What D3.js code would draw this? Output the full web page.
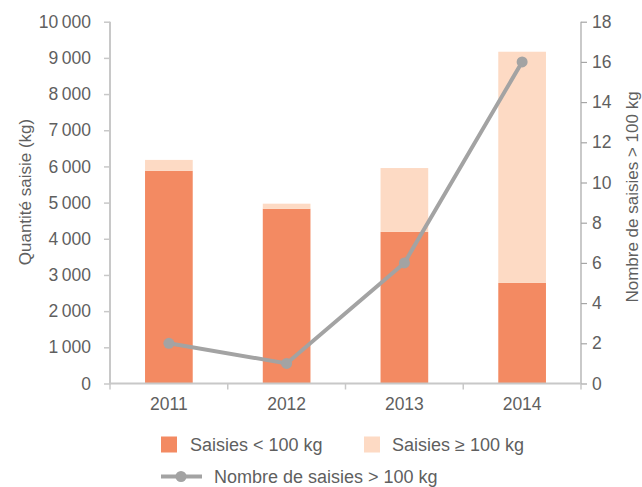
<!DOCTYPE html>
<html><head><meta charset="utf-8">
<script src="https://cdn.jsdelivr.net/npm/d3@7"></script>
<style>
body{margin:0;background:#fff;}
svg text{font-family:"Liberation Sans",Arial,sans-serif;fill:#5f5f5f;}
</style></head>
<body><svg id="c" width="642" height="487"></svg>
<script>
const years = ["2011","2012","2013","2014"];
const small = [5880, 4830, 4190, 2780];      // Saisies < 100 kg
const large = [300, 140, 1765, 6390];        // Saisies ≥ 100 kg
const counts = [2, 1, 6, 16];                // Nombre de saisies > 100 kg
const leftTicks = [0,1000,2000,3000,4000,5000,6000,7000,8000,9000,10000];
const rightTicks = [0,2,4,6,8,10,12,14,16,18];

const svg = d3.select("#c");
const m = {l:110, r:581, t:21.7, b:383.5};
const x = d3.scaleBand().domain(years).range([m.l, m.r]).paddingInner(0.595).paddingOuter(0.2975);
const xb = d3.scaleBand().domain(years).range([m.l, m.r]);
const y = d3.scaleLinear().domain([0,10000]).range([m.b, m.t]);
const y2 = d3.scaleLinear().domain([0,18]).range([m.b, m.t]);
const fmt = v => d3.format(",")(v).replace(/,/g, "\u2009");

const cDark = "#f38a62", cLight = "#fddac4", cLine = "#a3a3a3";

// bars
const g = svg.append("g");
g.selectAll(".s").data(years).join("rect")
  .attr("x", d => x(d)).attr("width", x.bandwidth())
  .attr("y", (d,i) => y(small[i])).attr("height", (d,i) => y(0) - y(small[i]))
  .attr("fill", cDark);
g.selectAll(".l").data(years).join("rect")
  .attr("x", d => x(d)).attr("width", x.bandwidth())
  .attr("y", (d,i) => y(small[i] + large[i])).attr("height", (d,i) => y(small[i]) - y(small[i] + large[i]))
  .attr("fill", cLight);

// left axis
const la = svg.append("g").attr("transform", `translate(${m.l},0)`)
  .call(d3.axisLeft(y).tickValues(leftTicks).tickFormat(fmt).tickSize(6).tickPadding(13));
la.select(".domain").attr("stroke", "#c8c8c8").attr("stroke-width", 2).attr("d", `M0,${m.t}V${m.b+1}`);
la.selectAll(".tick line").attr("stroke", "#c8c8c8").attr("stroke-width", 1.5);
la.selectAll(".tick text").attr("font-size", 17.5).style("font-family", "Liberation Sans, Arial, sans-serif").attr("fill", "#5f5f5f");

// right axis
const ra = svg.append("g").attr("transform", `translate(${m.r},0)`)
  .call(d3.axisRight(y2).tickValues(rightTicks).tickSize(6).tickPadding(5));
ra.select(".domain").attr("stroke", "#a6a6a6").attr("stroke-width", 1.2).attr("d", `M0,${m.t}V${m.b+1}`);
ra.selectAll(".tick line").attr("stroke", "#a6a6a6").attr("stroke-width", 1.2);
ra.selectAll(".tick text").attr("font-size", 17.5).style("font-family", "Liberation Sans, Arial, sans-serif").attr("fill", "#5f5f5f");

// bottom axis
const ba = svg.append("g").attr("transform", `translate(0,${m.b})`)
  .call(d3.axisBottom(xb).tickSize(0).tickPadding(14));
ba.select(".domain").attr("stroke", "#c8c8c8").attr("stroke-width", 2).attr("d", `M${m.l},0H${m.r}`);
ba.selectAll(".tick text").attr("font-size", 17.5).style("font-family", "Liberation Sans, Arial, sans-serif").attr("fill", "#5f5f5f");
const bounds = years.map(d => xb(d)).concat([m.r]);
ba.selectAll(".bt").data(bounds).join("line")
  .attr("x1", d => d).attr("x2", d => d).attr("y1", 0).attr("y2", 6)
  .attr("stroke", "#c8c8c8").attr("stroke-width", 1.5);

// line series
const cx = d => xb(d) + xb.bandwidth()/2;
svg.append("path").datum(years)
  .attr("fill", "none").attr("stroke", cLine).attr("stroke-width", 4)
  .attr("d", d3.line().x(d => cx(d)).y((d,i) => y2(counts[i])));
svg.selectAll(".pt").data(years).join("circle")
  .attr("cx", d => cx(d)).attr("cy", (d,i) => y2(counts[i])).attr("r", 5.5).attr("fill", cLine);

// axis titles
svg.append("text").attr("transform", "translate(31,192) rotate(-90)")
  .attr("text-anchor", "middle").attr("font-size", 17).text("Quantité saisie (kg)");
svg.append("text").attr("transform", "translate(638,197) rotate(-90)")
  .attr("text-anchor", "middle").attr("font-size", 17).text("Nombre de saisies > 100 kg");

// legend
const lg = svg.append("g");
lg.append("rect").attr("x", 161).attr("y", 436.5).attr("width", 16).attr("height", 16).attr("fill", cDark);
lg.append("text").attr("x", 190).attr("y", 451).attr("font-size", 18).text("Saisies < 100 kg");
lg.append("rect").attr("x", 364).attr("y", 436.5).attr("width", 16).attr("height", 16).attr("fill", cLight);
lg.append("text").attr("x", 392).attr("y", 451).attr("font-size", 18).text("Saisies ≥ 100 kg");
lg.append("line").attr("x1", 161).attr("x2", 202).attr("y1", 476.5).attr("y2", 476.5)
  .attr("stroke", cLine).attr("stroke-width", 4);
lg.append("circle").attr("cx", 181).attr("cy", 476.5).attr("r", 5.5).attr("fill", cLine);
lg.append("text").attr("x", 214).attr("y", 483).attr("font-size", 18).text("Nombre de saisies > 100 kg");
</script></body></html>
